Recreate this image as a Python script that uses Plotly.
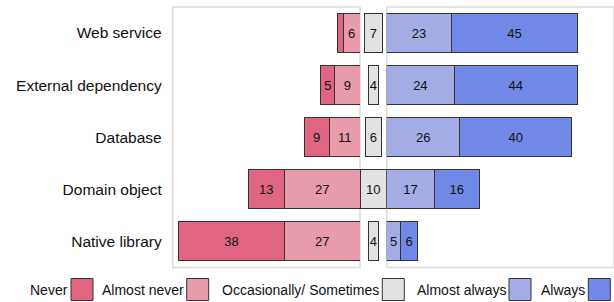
import plotly.graph_objects as go

# ---- data ----
categories = ["Web service", "External dependency", "Database", "Domain object", "Native library"]
never = [2, 5, 9, 13, 38]
almost_never = [6, 9, 11, 27, 27]
sometimes = [7, 4, 6, 10, 4]
almost_always = [23, 24, 26, 17, 5]
always = [45, 44, 40, 16, 6]
series_names = ["Never", "Almost never", "Occasionally/ Sometimes", "Almost always", "Always"]
colors = ["#df6582", "#e89baa", "#e2e2e2", "#a3ace4", "#7189e6"]

W, H = 614, 302
FONT = "Liberation Sans, Arial, Helvetica, sans-serif"


def labels(vals):
    return [str(v) if v >= 3 else "" for v in vals]


common = dict(
    orientation="h",
    textposition="inside",
    insidetextanchor="middle",
    constraintext="none",
    textfont=dict(family=FONT, size=13, color="#111111"),
    marker_line=dict(color="#333333", width=1),
    showlegend=False,
    yaxis="y",
)

fig = go.Figure()
# left panel (negative side, reversed axis)
fig.add_trace(go.Bar(y=categories, x=almost_never, text=labels(almost_never), name=series_names[1],
                     marker_color=colors[1], xaxis="x", **common))
fig.add_trace(go.Bar(y=categories, x=never, text=labels(never), name=series_names[0],
                     marker_color=colors[0], xaxis="x", **common))
# middle panel (centered neutral)
fig.add_trace(go.Bar(y=categories, x=sometimes, base=[-v / 2 for v in sometimes], text=labels(sometimes),
                     name=series_names[2], marker_color=colors[2], xaxis="x2", **common))
# right panel (positive side)
fig.add_trace(go.Bar(y=categories, x=almost_always, text=labels(almost_always), name=series_names[3],
                     marker_color=colors[3], xaxis="x3", **common))
fig.add_trace(go.Bar(y=categories, x=always, text=labels(always), name=series_names[4],
                     marker_color=colors[4], xaxis="x3", **common))

xl0, xl1, xr0 = 172.7 / W, 360 / W, 386.7 / W
yd0, yd1 = 1 - 267.5 / H, 1 - 7 / H

hidden = dict(showgrid=False, zeroline=False, showticklabels=False, showline=False, ticks="", fixedrange=True)
fig.update_layout(
    width=W, height=H, autosize=False,
    margin=dict(l=0, r=0, t=0, b=0),
    paper_bgcolor="white", plot_bgcolor="white",
    barmode="stack", bargap=0.25,
    font=dict(family=FONT, color="#111111"),
    xaxis=dict(domain=[xl0, xl1], range=[67, 0], anchor="y", **hidden),
    xaxis2=dict(domain=[xl1, xr0], range=[-5, 5], anchor="y", **hidden),
    xaxis3=dict(domain=[xr0, 1], range=[0, 81], anchor="y", **hidden),
    yaxis=dict(domain=[yd0, yd1], type="category", categoryorder="array", categoryarray=categories,
               range=[4.5, -0.5], anchor="x", showgrid=False, zeroline=False, showline=False,
               ticks="", ticklabelstandoff=10, fixedrange=True,
               tickfont=dict(family=FONT, size=15.5, color="#111111")),
)

# panel borders
for xr in ["x", "x3"]:
    fig.add_shape(type="rect", xref=f"{xr} domain", yref="y domain", x0=0, x1=1, y0=0, y1=1,
                  line=dict(color="#dcdcdc", width=1.5), layer="below")

# legend (text to the left of swatch)
swatch_left = [71, 186.7, 382.3, 509, 588.3]
sw, sy0, sy1 = 22, 278.5, 300.5
for name, col, sl in zip(series_names, colors, swatch_left):
    fig.add_shape(type="rect", xref="paper", yref="paper",
                  x0=sl / W, x1=(sl + sw) / W, y0=1 - sy1 / H, y1=1 - sy0 / H,
                  fillcolor=col, line=dict(color="#333333", width=1))
    fig.add_annotation(xref="paper", yref="paper", x=(sl - 1) / W, y=1 - 290 / H,
                       xanchor="right", yanchor="middle", text=name, showarrow=False,
                       font=dict(family=FONT, size=14, color="#111111"))

fig.write_html("out.html", config={"displayModeBar": False},
               post_script="document.body.style.margin='0';document.body.style.overflow='hidden';")
